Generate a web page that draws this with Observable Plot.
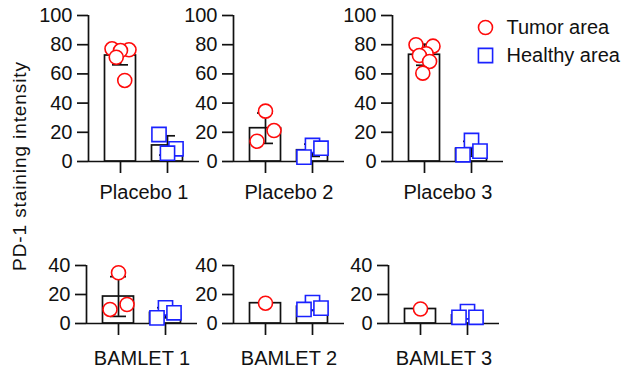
<!DOCTYPE html>
<html>
<head>
<meta charset="utf-8">
<script src="https://cdn.jsdelivr.net/npm/d3@7"></script>
<script src="https://cdn.jsdelivr.net/npm/@observablehq/plot@0.6"></script>
<style>
  body { margin: 0; background: #fff; }
  #fig { position: relative; width: 640px; height: 369px; overflow: hidden; background: #fff;
         font-family: "Liberation Sans", Arial, sans-serif; }
  #ytitle { position: absolute; left: -100px; top: 154px; width: 240px; height: 24px; line-height: 24px;
            text-align: center; font-size: 19px; letter-spacing: 0.9px; color: #111;
            transform: rotate(-90deg); transform-origin: 50% 50%; white-space: nowrap; }
</style>
</head>
<body>
<div id="fig"><div id="ytitle"></div></div>
<script>
// ---------- data ----------
const panels = ["Placebo 1", "Placebo 2", "Placebo 3", "BAMLET 1", "BAMLET 2", "BAMLET 3"];
const groups = ["Tumor area", "Healthy area"];
const yTitle = "PD-1 staining intensity";

// individual values per panel, listed left to right as they appear
const tumorPoints = [
  [77.2, 71.4, 76.0, 55.5, 76.5],
  [13.9, 34.5, 21.2],
  [80.0, 72.6, 60.5, 73.8, 68.5, 79.0],
  [9.7, 35.0, 13.1],
  [14.0],
  [10.0]
];
const healthyPoints = [
  [18.5, 5.7, 8.7],
  [3.0, 11.0, 9.1],
  [4.6, 14.4, 7.1],
  [3.9, 10.8, 7.4],
  [9.7, 14.4, 10.6],
  [4.3, 8.2, 4.3]
];
// bar heights (mean) and error bars (SD)
const tumorMean = [72.6, 22.8, 73.1, 18.6, 14.0, 10.0];
const tumorSD = [6.4, 10.4, 7.2, 13.7, 0, 0];
const healthyMean = [11.0, 7.7, 8.7, 7.4, 11.6, 5.6];
const healthySD = [6.6, 4.2, 5.1, 3.5, 2.6, 2.3];

const topTicks = [0, 20, 40, 60, 80, 100];
const bottomTicks = [0, 20, 40];

// ---------- styling / layout ----------
const ink = "#111";
const red = "#ff0a0a";
const blue = "#1a22ff";
const sw = 1.7;
const fig = document.getElementById("fig");
document.getElementById("ytitle").textContent = yTitle;

const axisLeft = [88, 233, 392, 86, 233, 388];
const stepPx = 47;            // distance between the two group centres
const outerPx = 32;           // axis to first group centre
const spreadPx = 17;          // horizontal spread of the points
const barHalf = 15.5 / stepPx;
const capHalf = 8 / stepPx;

function panel(k) {
  const isTop = k < 3;
  const ticks = isTop ? topTicks : bottomTicks;
  const yMax = d3.max(ticks);
  const mL = 55, mR = 6, mT = 15;
  const innerH = yMax * (isTop ? 1.46 : 1.45);
  const H = isTop ? 205 : 119;
  const mB = H - mT - innerH;
  const innerW = 2 * outerPx + stepPx;
  const W = mL + innerW + mR;
  const xDom = [-outerPx / stepPx, 1 + outerPx / stepPx];

  const means = [tumorMean[k], healthyMean[k]];
  const sds = [tumorSD[k], healthySD[k]];
  const pts = [tumorPoints[k], healthyPoints[k]];
  const rows = groups.map((g, i) => ({i, g, mean: means[i], sd: sds[i], n: pts[i].length}));
  const err = rows.filter(d => d.n > 1 && d.sd > 0);

  const points = groups.flatMap((g, i) => {
    const vals = pts[i];
    const n = vals.length;
    return vals.map((v, j) => ({i, g, v, off: n > 1 ? (j / (n - 1) - 0.5) * spreadPx / stepPx : 0}));
  });
  const drawOrder = d3.sort(points, (a, b) => b.v - a.v);

  const svg = Plot.plot({
    width: W, height: H,
    marginLeft: mL, marginRight: mR, marginTop: mT, marginBottom: mB,
    x: {domain: xDom},
    y: {domain: [0, yMax]},
    style: {background: "transparent", overflow: "visible", fontFamily: "'Liberation Sans', Arial, sans-serif", color: ink},
    marks: [
      Plot.rect(rows, {x1: d => d.i - barHalf, x2: d => d.i + barHalf, y1: 0, y2: "mean",
                       fill: "white", stroke: ink, strokeWidth: sw}),
      Plot.ruleX(err, {x: "i", y1: d => d.mean - d.sd, y2: d => d.mean + d.sd, stroke: ink, strokeWidth: sw}),
      Plot.ruleY(err, {y: d => d.mean - d.sd, x1: d => d.i - capHalf, x2: d => d.i + capHalf, stroke: ink, strokeWidth: sw}),
      Plot.ruleY(err, {y: d => d.mean + d.sd, x1: d => d.i - capHalf, x2: d => d.i + capHalf, stroke: ink, strokeWidth: sw}),
      Plot.ruleY([0], {stroke: ink, strokeWidth: sw}),
      Plot.ruleX([xDom[0]], {stroke: ink, strokeWidth: sw}),
      Plot.axisY({ticks, tickSize: 11, tickPadding: 5, label: null, fontSize: 20, strokeWidth: sw, color: ink}),
      Plot.axisX({ticks: [0, 1], tickSize: 12, tickFormat: () => "", label: null, strokeWidth: sw, color: ink}),
      Plot.dot(drawOrder.filter(d => d.i === 0), {x: d => d.i + d.off, y: "v", r: 7, fill: "white", stroke: red, strokeWidth: 1.6}),
      Plot.dot(drawOrder.filter(d => d.i === 1), {x: d => d.i + d.off, y: "v", r: 8, symbol: "square", fill: "white", stroke: blue, strokeWidth: 1.6}),
      Plot.text([panels[k]], {frameAnchor: "bottom", dy: isTop ? 31 : 35, lineAnchor: "middle", fontSize: 20, fill: ink})
    ]
  });
  svg.style.position = "absolute";
  svg.style.left = (axisLeft[k] - mL) + "px";
  svg.style.top = (isTop ? 0 : 250) + "px";
  fig.appendChild(svg);
}

for (let k = 0; k < panels.length; k++) panel(k);

// legend
const legend = Plot.plot({
  width: 160, height: 70, margin: 0,
  x: {axis: null},
  y: {type: "point", domain: groups, range: [22, 50], padding: 0, axis: null},
  style: {background: "transparent", overflow: "visible", fontFamily: "'Liberation Sans', Arial, sans-serif", color: ink},
  marks: [
    Plot.dot([groups[0]], {y: d => d, frameAnchor: "left", dx: 15, r: 7, fill: "white", stroke: red, strokeWidth: 1.6}),
    Plot.dot([groups[1]], {y: d => d, frameAnchor: "left", dx: 15, r: 8, symbol: "square", fill: "white", stroke: blue, strokeWidth: 1.6}),
    Plot.text(groups, {y: d => d, text: d => d, frameAnchor: "left", dx: 36, textAnchor: "start", fontSize: 20, fill: ink})
  ]
});
legend.style.position = "absolute";
legend.style.left = "470px";
legend.style.top = "5px";
fig.appendChild(legend);
</script>
</body>
</html>
